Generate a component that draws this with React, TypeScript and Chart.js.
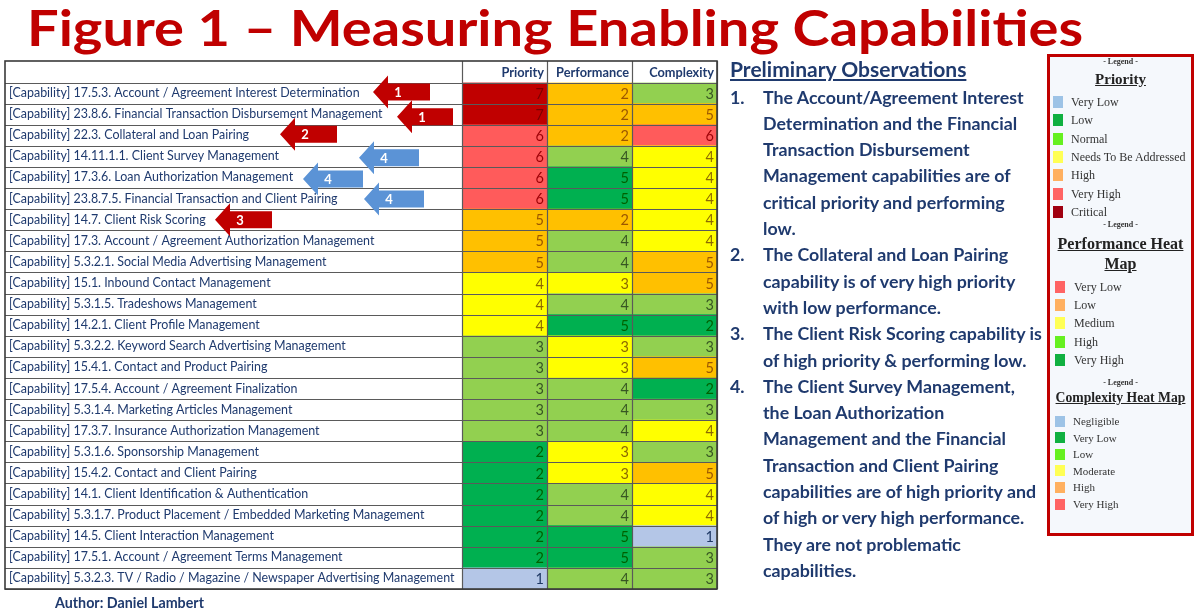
import React, { useEffect, useRef } from 'react';
import { Chart, registerables } from 'chart.js';
Chart.register(...registerables);

// ---------- DATA ----------
const capabilities = [
  '17.5.3. Account / Agreement Interest Determination',
  '23.8.6. Financial Transaction Disbursement Management',
  '22.3. Collateral and Loan Pairing',
  '14.11.1.1. Client Survey Management',
  '17.3.6. Loan Authorization Management',
  '23.8.7.5. Financial Transaction and Client Pairing',
  '14.7. Client Risk Scoring',
  '17.3. Account / Agreement Authorization Management',
  '5.3.2.1. Social Media Advertising Management',
  '15.1. Inbound Contact Management',
  '5.3.1.5. Tradeshows Management',
  '14.2.1. Client Profile Management',
  '5.3.2.2. Keyword Search Advertising Management',
  '15.4.1. Contact and Product Pairing',
  '17.5.4. Account / Agreement Finalization',
  '5.3.1.4. Marketing Articles Management',
  '17.3.7. Insurance Authorization Management',
  '5.3.1.6. Sponsorship Management',
  '15.4.2. Contact and Client Pairing',
  '14.1. Client Identification & Authentication',
  '5.3.1.7. Product Placement / Embedded Marketing Management',
  '14.5. Client Interaction Management',
  '17.5.1. Account / Agreement Terms Management',
  '5.3.2.3. TV / Radio / Magazine / Newspaper Advertising Management',
];
const priority = [7, 7, 6, 6, 6, 6, 5, 5, 5, 4, 4, 4, 3, 3, 3, 3, 3, 2, 2, 2, 2, 2, 2, 1];
const performance = [2, 2, 2, 4, 5, 5, 2, 4, 4, 3, 4, 5, 3, 3, 4, 4, 4, 3, 3, 4, 4, 5, 5, 4];
const complexity = [3, 5, 6, 4, 4, 4, 4, 4, 5, 5, 3, 2, 3, 5, 2, 3, 4, 3, 5, 4, 4, 1, 3, 3];
const columnHeaders = ['Priority', 'Performance', 'Complexity'];

const arrowRows = [0, 1, 2, 3, 4, 5, 6];
const arrowNumbers = ['1', '1', '2', '4', '4', '4', '3'];

const observationTitle = 'Preliminary Observations';
const observation1 = ['The Account/Agreement Interest', 'Determination and the Financial', 'Transaction Disbursement', 'Management capabilities are of', 'critical priority and performing', 'low.'];
const observation2 = ['The Collateral and Loan Pairing', 'capability is of very high priority', 'with low performance.'];
const observation3 = ['The Client Risk Scoring capability is', 'of high priority & performing low.'];
const observation4 = ['The Client Survey Management,', 'the Loan Authorization', 'Management and the Financial', 'Transaction and Client Pairing', 'capabilities are of high priority and', 'of high or very high performance.', 'They are not problematic', 'capabilities.'];

const priorityLegendLabels = ['Very Low', 'Low', 'Normal', 'Needs To Be Addressed', 'High', 'Very High', 'Critical'];
const priorityLegendColors = ['#9DC3E6', '#10B040', '#66F020', '#FFFF55', '#FFB060', '#FF6464', '#A00010'];
const performanceLegendLabels = ['Very Low', 'Low', 'Medium', 'High', 'Very High'];
const performanceLegendColors = ['#FF6464', '#FFB060', '#FFFF55', '#66F020', '#10B040'];
const complexityLegendLabels = ['Negligible', 'Very Low', 'Low', 'Moderate', 'High', 'Very High'];
const complexityLegendColors = ['#9DC3E6', '#10B040', '#66F020', '#FFFF55', '#FFB060', '#FF6464'];

// ---------- STYLE ----------
const NAVY = '#1F3A6E';
const TITLE_RED = '#C00000';
const LATO = 'Lato, "Open Sans", sans-serif';
const SERIF = '"Liberation Serif", "DejaVu Serif", serif';

const FILL: Record<string, string> = {
  vlow: '#B4C6E7', green: '#00B050', lgreen: '#92D050', yellow: '#FFFF00', orange: '#FFC000', red: '#FF5B5B', dred: '#C00000',
};
const TEXT_ON: Record<string, string> = {
  '#B4C6E7': '#1F3864', '#00B050': '#006100', '#92D050': '#375623', '#FFFF00': '#8C6A00', '#FFC000': '#9C5700', '#FF5B5B': '#9C0006', '#C00000': '#7A0000',
};
const priorityPalette: Record<number, string> = { 1: FILL.vlow, 2: FILL.green, 3: FILL.lgreen, 4: FILL.yellow, 5: FILL.orange, 6: FILL.red, 7: FILL.dred };
const performancePalette: Record<number, string> = { 1: FILL.red, 2: FILL.orange, 3: FILL.yellow, 4: FILL.lgreen, 5: FILL.green };
const complexityPalette: Record<number, string> = { 1: FILL.vlow, 2: FILL.green, 3: FILL.lgreen, 4: FILL.yellow, 5: FILL.orange, 6: FILL.red };

const measureCtx = document.createElement('canvas').getContext('2d') as CanvasRenderingContext2D;
function textWidth(text: string, weight: number, family: string, size: number) {
  measureCtx.font = `${weight} ${size}px ${family}`;
  return measureCtx.measureText(text).width;
}
function fitSize(text: string, weight: number, family: string, target: number) {
  return (100 * target) / textWidth(text, weight, family, 100);
}

type TProps = { x: number; cy: number; size: number; text: string; weight?: number; family?: string; color?: string; underline?: boolean; width?: number; center?: boolean; scaleX?: number };
function T({ x, cy, size, text, weight = 400, family = LATO, color = NAVY, underline = false, width, center = false, scaleX }: TProps) {
  const lh = Math.round(size * 1.3);
  const style: React.CSSProperties = {
    position: 'absolute', left: x, top: cy - lh / 2, height: lh, lineHeight: `${lh}px`, fontSize: size,
    fontWeight: weight, fontFamily: family, color, whiteSpace: 'nowrap', textDecoration: underline ? 'underline' : 'none',
  };
  if (center && width) { style.width = width; style.textAlign = 'center'; }
  if (scaleX) { style.transform = `scaleX(${scaleX})`; style.transformOrigin = 'left center'; }
  return <div style={style}>{text}</div>;
}

function TableChart() {
  const ref = useRef<HTMLCanvasElement>(null);
  useEffect(() => {
    const labels = capabilities.map((c) => `[Capability] ${c}`);
    const longest = labels.reduce((a, b) => (textWidth(a, 400, 'Lato', 100) >= textWidth(b, 400, 'Lato', 100) ? a : b));
    const labelSize = fitSize(longest, 400, 'Lato', 446);
    const headerSize = fitSize('Performance', 700, 'Lato', 73);
    const columns = [priority, performance, complexity];
    const palettes = [priorityPalette, performancePalette, complexityPalette];
    const arrowTipX = [373, 397, 280, 359, 303, 364, 215];
    const arrowLen = [57, 56, 57, 60, 60, 60, 57];
    const arrowDy = [-1, 2.5, -1, 1.5, 1.5, 0.5, 0];

    const tablePlugin = {
      id: 'tablePlugin',
      afterDatasetsDraw(chart: any) {
        const { ctx, chartArea, scales } = chart;
        const xs = scales.x;
        const n = labels.length;
        const rowH = (chartArea.bottom - chartArea.top) / n;
        const top = 61;
        ctx.save();
        // header labels
        ctx.font = `700 ${headerSize}px Lato`;
        ctx.fillStyle = NAVY;
        ctx.textAlign = 'right';
        ctx.textBaseline = 'middle';
        columnHeaders.forEach((h, c) => {
          ctx.fillText(h, xs.getPixelForValue(c + 1) - 3, (top + chartArea.top) / 2 + 1);
        });
        // numbers
        ctx.font = `400 14.5px Lato`;
        columns.forEach((vals, c) => {
          const meta = chart.getDatasetMeta(c);
          meta.data.forEach((el: any, i: number) => {
            const fill = palettes[c][vals[i]];
            ctx.fillStyle = TEXT_ON[fill] || '#333';
            ctx.fillText(String(vals[i]), Math.max(el.x, el.base) - 3, el.y + 1);
          });
        });
        // grid lines
        const left = 5;
        const right = xs.getPixelForValue(3);
        ctx.strokeStyle = '#5a5a5a';
        ctx.lineWidth = 1.2;
        ctx.beginPath();
        for (let k = 0; k <= n; k++) {
          const y = Math.round(chartArea.top + k * rowH) + 0.5;
          ctx.moveTo(left, y);
          ctx.lineTo(right, y);
        }
        for (let c = 0; c <= 3; c++) {
          const x = Math.round(xs.getPixelForValue(c)) + 0.5;
          ctx.moveTo(x, top);
          ctx.lineTo(x, chartArea.bottom);
        }
        ctx.stroke();
        ctx.strokeStyle = '#3a3a3a';
        ctx.lineWidth = 1.6;
        ctx.strokeRect(left, top, right - left, chartArea.bottom - top);
        ctx.restore();
      },
      afterDraw(chart: any) {
        const { ctx, scales } = chart;
        ctx.save();
        arrowRows.forEach((r, k) => {
          const cy = scales.y.getPixelForValue(r) + arrowDy[k];
          const tip = arrowTipX[k];
          const len = arrowLen[k];
          const headL = 15, headH = 16.5, bodyH = 8.5;
          ctx.fillStyle = arrowNumbers[k] === '4' ? '#5B93D6' : '#C00000';
          ctx.beginPath();
          ctx.moveTo(tip, cy);
          ctx.lineTo(tip + headL, cy - headH);
          ctx.lineTo(tip + headL, cy - bodyH);
          ctx.lineTo(tip + len, cy - bodyH);
          ctx.lineTo(tip + len, cy + bodyH);
          ctx.lineTo(tip + headL, cy + bodyH);
          ctx.lineTo(tip + headL, cy + headH);
          ctx.closePath();
          ctx.fill();
          ctx.fillStyle = '#FFFFFF';
          ctx.font = '700 13px Lato';
          ctx.textAlign = 'center';
          ctx.textBaseline = 'middle';
          ctx.fillText(arrowNumbers[k], tip + 25, cy + 1);
        });
        ctx.restore();
      },
    };

    const chart = new Chart(ref.current as HTMLCanvasElement, {
      type: 'bar',
      data: {
        labels,
        datasets: columns.map((vals, c) => ({
          label: columnHeaders[c],
          data: vals.map(() => [c, c + 1]),
          backgroundColor: vals.map((v) => palettes[c][v]),
          borderWidth: 0,
          barPercentage: 1,
          categoryPercentage: 1,
          grouped: false,
        })) as any,
      },
      options: {
        indexAxis: 'y',
        responsive: false,
        animation: false,
        devicePixelRatio: 1,
        layout: { padding: { left: 9, top: 61, right: 483, bottom: 23 } },
        plugins: { legend: { display: false }, tooltip: { enabled: false }, title: { display: false } },
        scales: {
          x: {
            type: 'linear', position: 'top', min: 0, max: 3,
            grid: { display: false }, border: { display: false },
            ticks: { display: false, stepSize: 1 },
            afterFit: (s: any) => { s.height = 21.5; },
          },
          y: {
            type: 'category',
            grid: { display: false }, border: { display: false },
            ticks: { autoSkip: false, crossAlign: 'far', padding: 0, color: NAVY, font: { family: 'Lato', size: labelSize } },
            afterFit: (s: any) => { s.width = 453; },
          },
        } as any,
      },
      plugins: [tablePlugin],
    });
    return () => chart.destroy();
  }, []);
  return <canvas ref={ref} width={1200} height={612} style={{ position: 'absolute', left: 0, top: 0, width: 1200, height: 612 }} />;
}

export default function App() {
  const titleText = 'Figure 1 \u2013 Measuring Enabling Capabilities';
  const titleSize = 50;
  const titleScale = 1056 / textWidth(titleText, 700, 'Lato', titleSize);
  const obsSize = fitSize('capabilities are of high priority and', 700, 'Lato', 274);
  const obsTitleSize = fitSize(observationTitle, 700, 'Lato', 237);
  const authorSize = fitSize('Author: Daniel Lambert', 700, 'Lato', 149);
  const perfHeadSize = fitSize('Performance Heat', 700, SERIF, 126);
  const compHeadSize = fitSize('Complexity Heat Map', 700, SERIF, 130);

  const observations = [observation1, observation2, observation3, observation4];
  const lineNodes: React.ReactNode[] = [];
  let line = 0;
  observations.forEach((lines, k) => {
    lines.forEach((txt, j) => {
      const cy = 97 + line * 26.3;
      if (j === 0) lineNodes.push(<T key={`n${k}`} x={730} cy={cy} size={obsSize} weight={700} text={`${k + 1}.`} />);
      lineNodes.push(<T key={`l${k}-${j}`} x={763} cy={cy} size={obsSize} weight={700} text={txt} />);
      line++;
    });
  });

  const boxL = 1047, boxW = 147;
  const legendItems = (labels: string[], colors: string[], y0: number, dy: number, sx: number, tx: number, size: number, sh: number) =>
    labels.map((lab, i) => {
      const cy = y0 + i * dy;
      return (
        <React.Fragment key={lab + i + y0}>
          <div style={{ position: 'absolute', left: sx, top: cy - sh / 2, width: 10, height: sh, background: colors[i] }} />
          <T x={tx} cy={cy} size={size} family={SERIF} color="#333" text={lab} />
        </React.Fragment>
      );
    });

  return (
    <div style={{ position: 'absolute', left: 0, top: 0, width: 1200, height: 612, background: '#fff', overflow: 'hidden' }}>
      <TableChart />
      <T x={27} cy={27} size={titleSize} weight={700} color={TITLE_RED} text={titleText} scaleX={titleScale} />
      <T x={730} cy={68} size={obsTitleSize} weight={700} underline text={observationTitle} />
      {lineNodes}
      <T x={55} cy={602} size={authorSize} weight={700} text="Author: Daniel Lambert" />

      <div style={{ position: 'absolute', left: boxL, top: 54, width: boxW, height: 482, border: '3px solid #C00000', background: '#F5F8FC', boxSizing: 'border-box' }} />
      <T x={boxL} width={boxW} center cy={62} size={8} weight={700} family={SERIF} color="#333" text="- Legend -" />
      <T x={boxL} width={boxW} center cy={79} size={15} weight={700} family={SERIF} color="#222" underline text="Priority" />
      {legendItems(priorityLegendLabels, priorityLegendColors, 102, 18.3, 1053, 1071, 12, 12)}
      <T x={boxL} width={boxW} center cy={225} size={8} weight={700} family={SERIF} color="#333" text="- Legend -" />
      <T x={boxL} width={boxW} center cy={243} size={perfHeadSize} weight={700} family={SERIF} color="#222" underline text="Performance Heat" />
      <T x={boxL} width={boxW} center cy={263} size={perfHeadSize} weight={700} family={SERIF} color="#222" underline text="Map" />
      {legendItems(performanceLegendLabels, performanceLegendColors, 287, 18.2, 1055, 1074, 12, 12)}
      <T x={boxL} width={boxW} center cy={383} size={8} weight={700} family={SERIF} color="#333" text="- Legend -" />
      <T x={boxL} width={boxW} center cy={398} size={compHeadSize} weight={700} family={SERIF} color="#222" underline text="Complexity Heat Map" />
      {legendItems(complexityLegendLabels, complexityLegendColors, 421, 16.6, 1055, 1073, 11, 11)}
    </div>
  );
}
